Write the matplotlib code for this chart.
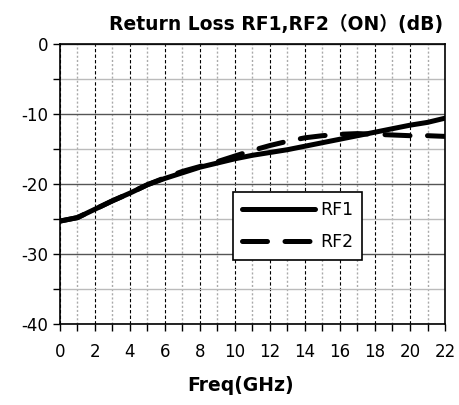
import numpy as np
import matplotlib
matplotlib.use('Agg')
import matplotlib.pyplot as plt
from matplotlib.ticker import MultipleLocator

plt.rcParams['font.family'] = ['DejaVu Sans', 'Noto Sans CJK SC']
plt.rcParams['axes.unicode_minus'] = False

# frequency points (GHz) and return loss (dB)
freq = [0, 1, 2, 3, 4, 5, 6, 7, 8, 9, 10, 11, 12, 13, 14, 15, 16, 17, 18, 19, 20, 21, 22]
rf1 = [-25.3, -24.8, -23.6, -22.4, -21.3, -20.1, -19.2, -18.4, -17.6, -17.0, -16.4,
       -15.9, -15.5, -15.1, -14.6, -14.1, -13.6, -13.1, -12.6, -12.1, -11.6, -11.2, -10.6]
rf2 = [-25.3, -24.8, -23.6, -22.4, -21.3, -20.1, -19.1, -18.2, -17.5, -16.8, -16.0,
       -15.2, -14.5, -13.9, -13.4, -13.1, -12.9, -12.8, -12.9, -13.0, -13.1, -13.1, -13.2]

xticks = np.arange(0, 23, 2)
yticks = np.arange(-40, 1, 10)

fig = plt.figure(figsize=(4.59, 4.05), dpi=100)
ax = fig.add_axes([0.1307, 0.2, 0.8388, 0.6914])

ax.plot(freq, rf1, color='black', lw=3.6, solid_capstyle='round', label='RF1', zorder=4)
ax.plot(freq, rf2, color='black', lw=3.6, dashes=(5, 3.5), dash_capstyle='round',
        label='RF2', zorder=4)

ax.set_xlim(0, 22)
ax.set_ylim(-40, 0)
ax.set_xticks(xticks)
ax.set_yticks(yticks)
ax.xaxis.set_minor_locator(MultipleLocator(1))
ax.yaxis.set_minor_locator(MultipleLocator(5))

# grid: x major dashed, x minor dotted, y major dark, y minor light
ax.grid(which='major', axis='x', color='black', ls=(0, (3, 2)), lw=0.8)
ax.grid(which='minor', axis='x', color='#aaaaaa', ls=(0, (1.5, 1.5)), lw=1.0)
ax.grid(which='major', axis='y', color='#555555', ls='-', lw=1.0)
ax.grid(which='minor', axis='y', color='#bbbbbb', ls='-', lw=1.0)
ax.set_axisbelow(True)

ax.tick_params(which='both', direction='out', length=5, width=1, labelsize=12, color='black')
ax.tick_params(axis='x', which='major', pad=9)
for s in ax.spines.values():
    s.set_linewidth(1.2)
    s.set_color('black')

ax.set_title('Return Loss RF1,RF2（ON）(dB)', fontsize=13.5, fontweight='bold', pad=10, x=0.56)
ax.set_xlabel('Freq(GHz)', fontsize=13.5, fontweight='bold')
ax.xaxis.set_label_coords(0.47, -0.185)

leg = ax.legend(loc='lower left', bbox_to_anchor=(0.45, 0.23), fontsize=12.5,
                handlelength=4.2, fancybox=False, framealpha=1, edgecolor='black',
                borderpad=0.5, labelspacing=0.8, handletextpad=0.3, borderaxespad=0)
leg.get_frame().set_linewidth(1.2)

fig.savefig('out.png', dpi=100)
